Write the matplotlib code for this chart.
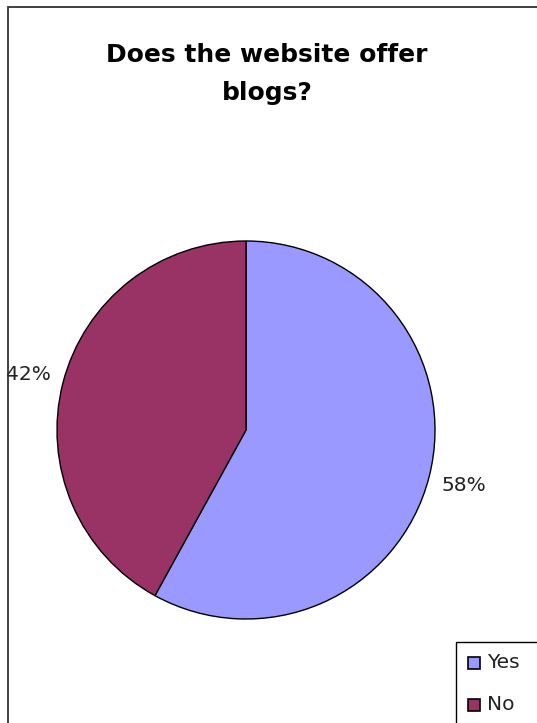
import matplotlib.pyplot as plt
from matplotlib.patches import Rectangle

# data
labels = ['Yes', 'No']
shares = [58, 42]
colors = ['#9999FF', '#993366']
title = 'Does the website offer\nblogs?'

W, H = 537, 723
fig = plt.figure(figsize=(W / 100, H / 100), dpi=100)
fig.patch.set_facecolor('white')

def fx(px):
    return px / W

def fy(py):
    return 1 - py / H

def box(x0, y0, x1, y1, **kw):
    # rectangle given in pixel coords from the top-left corner
    fig.patches.append(Rectangle((fx(x0), fy(y1)), (x1 - x0) / W, (y1 - y0) / H,
                                 transform=fig.transFigure, **kw))

# outer chart frame (cut at right and bottom)
box(8, 7, 560, 760, fill=False, edgecolor='#333333', lw=1.3)

fig.text(fx(267), fy(74), title, ha='center', va='center', fontsize=18,
         fontweight='bold', family='DejaVu Sans', linespacing=1.75)

# pie
cx, cy, r = 246, 430, 189
ax = fig.add_axes([fx(cx - r), fy(cy + r), 2 * r / W, 2 * r / H])
wedges, texts = ax.pie(shares, colors=colors, startangle=90, counterclock=False,
                       labels=[f'{s}%' for s in shares], labeldistance=1.19,
                       wedgeprops=dict(edgecolor='black', linewidth=1.0),
                       textprops=dict(fontsize=14.5, color='#222222',
                                      family='DejaVu Sans'))
for t in texts:
    t.set_ha('center')
ax.set_xlim(-1, 1)
ax.set_ylim(-1, 1)
ax.set_aspect('equal')
ax.axis('off')

# legend frame (cut at right and bottom)
box(456, 642, 600, 760, fill=False, edgecolor='black', lw=1.0)
for i, (lab, col) in enumerate(zip(labels, colors)):
    y = 663 + 42 * i
    box(468, y - 6, 480, y + 6, facecolor=col, edgecolor='black', lw=1.2)
    fig.text(fx(487), fy(y), lab, ha='left', va='center', fontsize=14.5,
             color='#222222', family='DejaVu Sans')

fig.savefig('out.png', dpi=100)
